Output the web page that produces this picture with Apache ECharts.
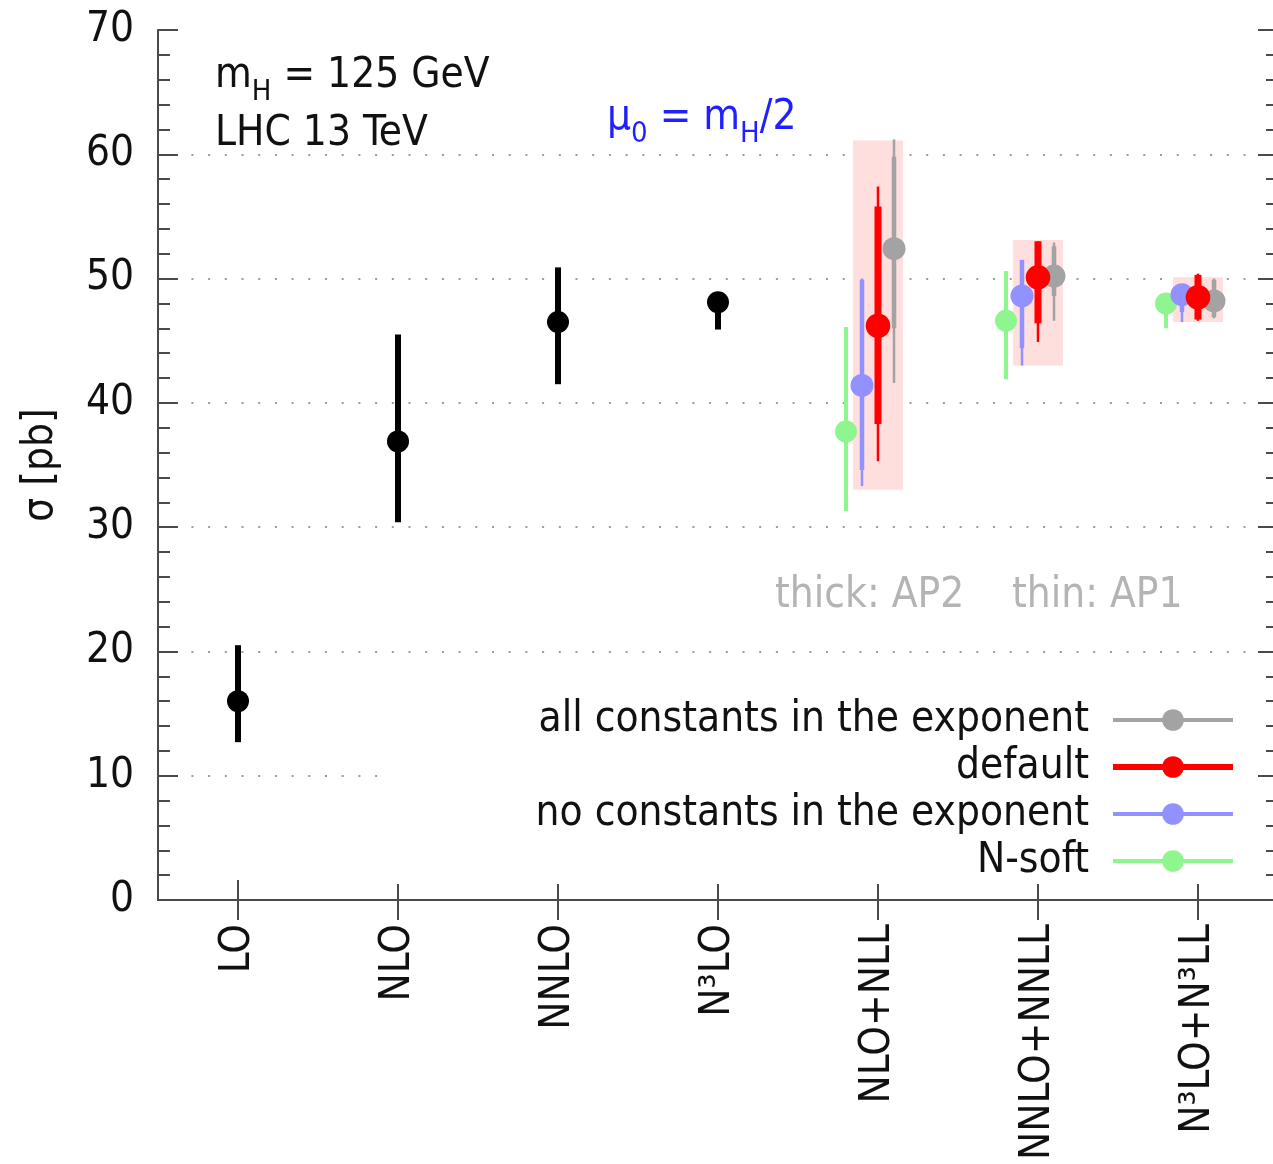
<!DOCTYPE html>
<html>
<head>
<meta charset="utf-8">
<script src="https://cdn.jsdelivr.net/npm/echarts@6/dist/echarts.min.js"></script>
<style>
  html, body { margin: 0; padding: 0; background: #fff; }
  #chart { width: 1273px; height: 1164px; }
</style>
</head>
<body>
<div id="chart"></div>
<script>
// Orders of the perturbative expansion along the x axis
const categories = ['LO', 'NLO', 'NNLO', 'N³LO', 'NLO+NLL', 'NNLO+NNLL', 'N³LO+N³LL'];

// Fixed-order cross sections [pb] with scale-variation bands
const fixedOrderIndex = [0, 1, 2, 3];
const fixedOrderCentral = [16.0, 36.9, 46.5, 48.1];
const fixedOrderLow = [12.7, 30.4, 41.5, 45.9];
const fixedOrderHigh = [20.5, 45.5, 50.9, 48.6];

// Resummed results (NLO+NLL, NNLO+NNLL, N3LO+N3LL)
const resummedIndex = [4, 5, 6];

// default
const defaultCentral = [46.2, 50.1, 48.5];
const defaultAP2Low = [38.3, 46.4, 46.7];
const defaultAP2High = [55.8, 53.0, 50.3];
const defaultAP1Low = [35.3, 44.9, 46.6];
const defaultAP1High = [57.4, 53.0, 50.4];

// all constants in the exponent
const allConstCentral = [52.4, 50.2, 48.2];
const allConstAP2Low = [46.0, 48.6, 46.9];
const allConstAP2High = [59.8, 52.6, 49.9];
const allConstAP1Low = [41.6, 46.6, 46.8];
const allConstAP1High = [61.2, 52.9, 50.0];

// no constants in the exponent
const noConstCentral = [41.4, 48.6, 48.7];
const noConstAP2Low = [34.6, 44.4, 47.3];
const noConstAP2High = [49.9, 51.5, 49.0];
const noConstAP1Low = [33.3, 43.0, 46.5];
const noConstAP1High = [50.0, 51.5, 49.0];

// N-soft
const nsoftCentral = [37.7, 46.6, 48.0];
const nsoftLow = [31.3, 41.9, 46.0];
const nsoftHigh = [46.1, 50.6, 48.3];

// Envelope of the resummed predictions (shaded boxes)
const envelopeLow = [33.0, 43.0, 46.5];
const envelopeHigh = [61.1, 53.1, 50.1];

const FONT = "'DejaVu Sans Condensed', 'DejaVu Sans', sans-serif";
const FS = 42;
const AXIS_COLOR = '#4a4a4a';

const COLORS = {
  fixed: '#000000',
  def: '#ff0000',
  all: '#a3a3a3',
  none: '#9191ff',
  nsoft: '#8ff58f',
  envelope: '#ffdede'
};

function rows(idx, c, lo2, hi2, lo1, hi1) {
  return idx.map((x, i) => [x, c[i], lo2[i], hi2[i], lo1[i], hi1[i]]);
}

// Error bar + central dot, shifted horizontally by a fraction of the category width
function errorBar(opt) {
  return function (params, api) {
    const idx = api.value(0);
    const band = api.size([1, 0])[0];
    const x = api.coord([idx, 0])[0] + opt.shift * band;
    const y = v => api.coord([idx, v])[1];
    const children = [];
    if (opt.thinWidth) {
      children.push({
        type: 'line',
        shape: { x1: x, y1: y(api.value(4)), x2: x, y2: y(api.value(5)) },
        style: { stroke: opt.color, lineWidth: opt.thinWidth }
      });
    }
    children.push({
      type: 'line',
      shape: { x1: x, y1: y(api.value(2)), x2: x, y2: y(api.value(3)) },
      style: { stroke: opt.color, lineWidth: opt.thickWidth }
    });
    children.push({
      type: 'circle',
      shape: { cx: x, cy: y(api.value(1)), r: opt.radius },
      style: { fill: opt.color }
    });
    return { type: 'group', children };
  };
}

function envelopeBox(params, api) {
  const idx = api.value(0);
  const band = api.size([1, 0])[0];
  const x = api.coord([idx, 0])[0];
  const half = 0.156 * band;
  const yTop = api.coord([idx, api.value(2)])[1];
  const yBot = api.coord([idx, api.value(1)])[1];
  return {
    type: 'rect',
    shape: { x: x - half, y: yTop, width: 2 * half, height: yBot - yTop },
    style: { fill: COLORS.envelope }
  };
}

const customBase = {
  type: 'custom',
  xAxisIndex: 0,
  yAxisIndex: 0,
  encode: { x: 0, y: [1, 2, 3, 4, 5] },
  silent: true
};

// Series used only for the legend entries (line + dot icon)
function legendSeries(name, color, width) {
  return {
    type: 'line', name, data: [],
    symbol: 'circle',
    itemStyle: { color },
    lineStyle: { color, width }
  };
}

const legendNames = ['all constants in the exponent', 'default', 'no constants in the exponent', 'N-soft'];

// Subscripts are pushed down by top padding inside a vertically centred rich-text line
const subStyle = (fill) => ({ fontSize: 29, lineHeight: 22, padding: [32, 0, 0, 0], fontFamily: FONT, fill });
const mainStyle = (fill) => ({ fontSize: FS, lineHeight: 56, fontFamily: FONT, fill });

const option = {
  animation: false,
  backgroundColor: '#ffffff',
  grid: { left: 158, top: 30, width: 1120, height: 870, outerBoundsMode: 'none', containLabel: false },
  xAxis: [
    {
      type: 'category', data: categories, position: 'bottom',
      axisLine: { show: true, lineStyle: { color: AXIS_COLOR, width: 2 } },
      axisTick: { show: true, alignWithLabel: true, inside: true, length: 20, lineStyle: { color: AXIS_COLOR, width: 2 } },
      axisLabel: { rotate: 90, margin: 24, fontSize: FS, fontFamily: FONT, color: '#111' },
      splitLine: { show: false }
    },
    {
      type: 'category', data: categories, position: 'top',
      axisLine: { show: true, lineStyle: { color: AXIS_COLOR, width: 2 } },
      axisTick: { show: true, alignWithLabel: true, inside: true, length: 20, lineStyle: { color: AXIS_COLOR, width: 2 } },
      axisLabel: { show: false },
      splitLine: { show: false }
    }
  ],
  yAxis: [
    {
      type: 'value', min: 0, max: 70, interval: 10, position: 'left',
      name: 'σ [pb]', nameLocation: 'middle', nameGap: 96, nameRotate: 90,
      nameTextStyle: { fontSize: FS, fontFamily: FONT, color: '#111' },
      axisLine: { show: true, lineStyle: { color: AXIS_COLOR, width: 2 } },
      axisTick: { show: true, inside: true, length: 20, lineStyle: { color: AXIS_COLOR, width: 2 } },
      minorTick: { show: true, splitNumber: 5, length: 12, lineStyle: { color: AXIS_COLOR, width: 2 } },
      axisLabel: { margin: 24, fontSize: FS, fontFamily: FONT, color: '#111' },
      splitLine: {
        show: true, showMinLine: false, showMaxLine: false,
        lineStyle: { type: [2, 14.7], color: '#9c9c9c', width: 2 }
      }
    },
    {
      type: 'value', min: 0, max: 70, interval: 10, position: 'right',
      axisLine: { show: true, lineStyle: { color: AXIS_COLOR, width: 2 } },
      axisTick: { show: true, inside: true, length: 20, lineStyle: { color: AXIS_COLOR, width: 2 } },
      minorTick: { show: true, splitNumber: 5, length: 12, lineStyle: { color: AXIS_COLOR, width: 2 } },
      axisLabel: { show: false },
      splitLine: { show: false }
    }
  ],
  legend: {
    orient: 'vertical', align: 'right',
    right: 24, top: 690,
    itemWidth: 120, itemHeight: 27, itemGap: 5,
    padding: [9, 13, 2, 154],
    backgroundColor: '#ffffff',
    selectedMode: false,
    textStyle: { fontSize: FS, fontFamily: FONT, color: '#111', padding: [0, 19, 0, 0] },
    data: [
      { name: legendNames[0], lineStyle: { width: 4 } },
      { name: legendNames[1], lineStyle: { width: 6 } },
      { name: legendNames[2], lineStyle: { width: 4 } },
      { name: legendNames[3], lineStyle: { width: 4 } }
    ]
  },
  graphic: [
    {
      type: 'text', z: 10,
      style: {
        x: 215, y: 76, verticalAlign: 'middle',
        text: '{n|m}{s|H}{n| = 125 GeV}',
        rich: { n: mainStyle('#111'), s: subStyle('#111') }
      }
    },
    {
      type: 'text', z: 10,
      style: { x: 215, y: 134, verticalAlign: 'middle', text: 'LHC 13 TeV', fontSize: FS, fontFamily: FONT, fill: '#111' }
    },
    {
      type: 'text', z: 10,
      style: {
        x: 607, y: 118, verticalAlign: 'middle',
        text: '{n|μ}{s|0}{n| = m}{s|H}{n|/2}',
        rich: { n: mainStyle('#1f1fff'), s: subStyle('#1f1fff') }
      }
    },
    {
      type: 'text', z: 10,
      style: { x: 775, y: 596, verticalAlign: 'middle', text: 'thick: AP2', fontSize: FS, fontFamily: FONT, fill: '#b4b4b4' }
    },
    {
      type: 'text', z: 10,
      style: { x: 1012, y: 596, verticalAlign: 'middle', text: 'thin: AP1', fontSize: FS, fontFamily: FONT, fill: '#b4b4b4' }
    }
  ],
  series: [
    legendSeries(legendNames[0], COLORS.all, 4),
    legendSeries(legendNames[1], COLORS.def, 6),
    legendSeries(legendNames[2], COLORS.none, 4),
    legendSeries(legendNames[3], COLORS.nsoft, 4),
    Object.assign({}, customBase, {
      name: 'envelope', z: 1,
      encode: { x: 0, y: [1, 2] },
      data: resummedIndex.map((x, i) => [x, envelopeLow[i], envelopeHigh[i]]),
      renderItem: envelopeBox
    }),
    Object.assign({}, customBase, {
      name: 'fixed order', z: 3,
      data: rows(fixedOrderIndex, fixedOrderCentral, fixedOrderLow, fixedOrderHigh, fixedOrderLow, fixedOrderHigh),
      renderItem: errorBar({ color: COLORS.fixed, shift: 0, thickWidth: 6, thinWidth: 0, radius: 11 })
    }),
    Object.assign({}, customBase, {
      name: 'N-soft bars', z: 3,
      data: rows(resummedIndex, nsoftCentral, nsoftLow, nsoftHigh, nsoftLow, nsoftHigh),
      renderItem: errorBar({ color: COLORS.nsoft, shift: -0.2, thickWidth: 4, thinWidth: 0, radius: 11 })
    }),
    Object.assign({}, customBase, {
      name: 'no constants bars', z: 4,
      data: rows(resummedIndex, noConstCentral, noConstAP2Low, noConstAP2High, noConstAP1Low, noConstAP1High),
      renderItem: errorBar({ color: COLORS.none, shift: -0.1, thickWidth: 4.5, thinWidth: 2.5, radius: 11.5 })
    }),
    Object.assign({}, customBase, {
      name: 'all constants bars', z: 5,
      data: rows(resummedIndex, allConstCentral, allConstAP2Low, allConstAP2High, allConstAP1Low, allConstAP1High),
      renderItem: errorBar({ color: COLORS.all, shift: 0.1, thickWidth: 4.5, thinWidth: 2.5, radius: 11.5 })
    }),
    Object.assign({}, customBase, {
      name: 'default bars', z: 6,
      data: rows(resummedIndex, defaultCentral, defaultAP2Low, defaultAP2High, defaultAP1Low, defaultAP1High),
      renderItem: errorBar({ color: COLORS.def, shift: 0, thickWidth: 7, thinWidth: 2.5, radius: 12.3 })
    })
  ]
};

const chart = echarts.init(document.getElementById('chart'), null, { renderer: 'canvas' });
chart.setOption(option);
</script>
</body>
</html>
